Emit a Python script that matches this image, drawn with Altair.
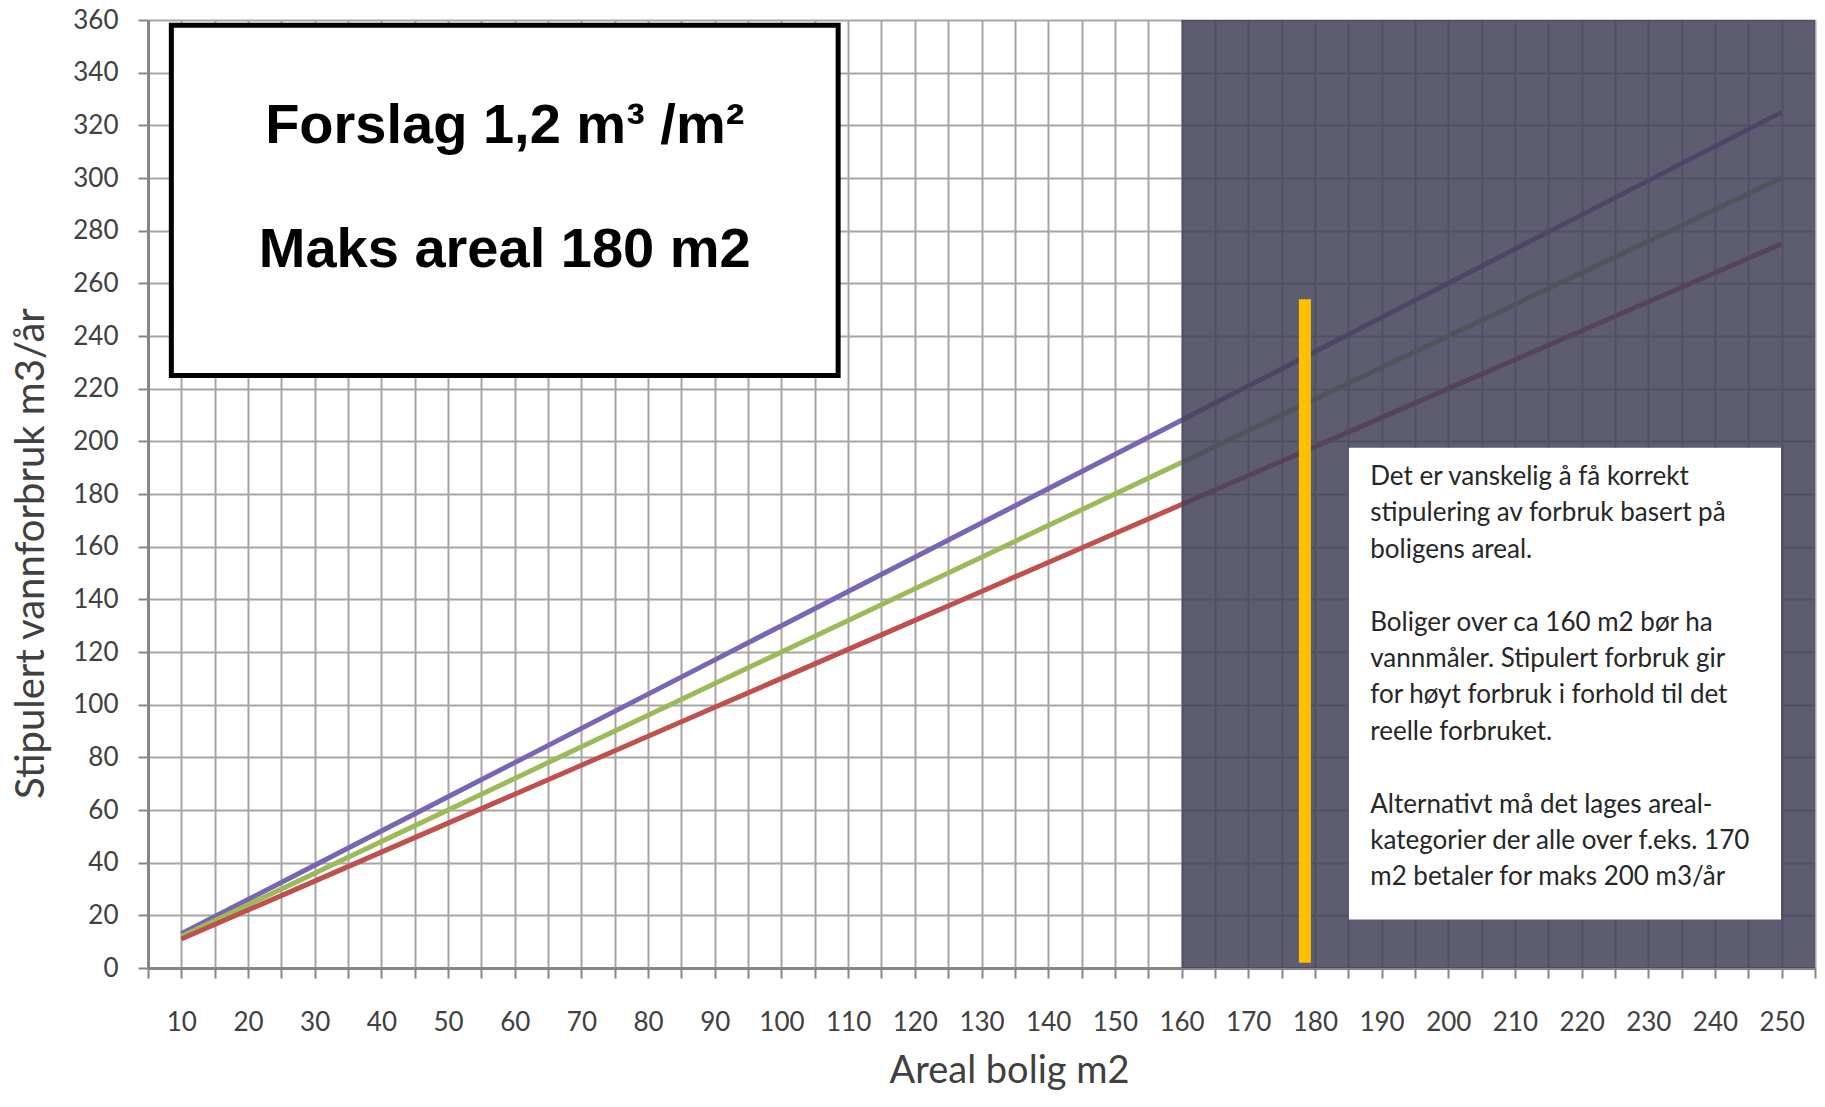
import altair as alt
import pandas as pd

# ---- data ----
areal = [10, 20, 30, 40, 50, 60, 70, 80, 90, 100, 110, 120, 130, 140, 150, 160,
         170, 180, 190, 200, 210, 220, 230, 240, 250]
forbruk_1_3 = [13, 26, 39, 52, 65, 78, 91, 104, 117, 130, 143, 156, 169, 182, 195, 208,
               221, 234, 247, 260, 273, 286, 299, 312, 325]
forbruk_1_2 = [12, 24, 36, 48, 60, 72, 84, 96, 108, 120, 132, 144, 156, 168, 180, 192,
               204, 216, 228, 240, 252, 264, 276, 288, 300]
forbruk_1_1 = [11, 22, 33, 44, 55, 66, 77, 88, 99, 110, 121, 132, 143, 154, 165, 176,
               187, 198, 209, 220, 231, 242, 253, 264, 275]
series_names = ["1,3 m3/m2", "1,2 m3/m2", "1,1 m3/m2"]
series_colors = ["#7866B4", "#9BBB59", "#C0504D"]

x_ticks = list(range(5, 256, 5))
y_ticks = list(range(0, 361, 20))

shade_x = [160, 255]
shade_y = [0, 360]
marker_x = [178.5]
marker_y = [2, 254]

box1_x = [8.5, 108.5]
box1_y = [225, 358]
box1_lines = ["Forslag 1,2 m\u00b3 /m\u00b2", "Maks areal 180 m2"]
box1_line_y = [319.8, 272.7]
box1_text_x = [58.5]

box2_x = [185.1, 249.9]
box2_y = [18.4, 197.6]
box2_text_x = 188.3
box2_first_line_y = 186.5
box2_line_step = 13.83
box2_lines = [
    "Det er vanskelig å få korrekt",
    "stipulering av forbruk basert på",
    "boligens areal.",
    "",
    "Boliger over ca  160 m2 bør ha",
    "vannmåler. Stipulert forbruk gir",
    "for høyt forbruk i forhold til det",
    "reelle forbruket.",
    "",
    "Alternativt må det lages areal-",
    "kategorier der alle  over f.eks. 170",
    "m2 betaler for maks 200 m3/år",
]

# ---- tables ----
rows = []
for name, vals in zip(series_names, [forbruk_1_3, forbruk_1_2, forbruk_1_1]):
    for a, v in zip(areal, vals):
        rows.append({"areal": a, "forbruk": v, "serie": name})
df = pd.DataFrame(rows)

xs = alt.Scale(domain=[5, 255], nice=False, zero=False)
ys = alt.Scale(domain=[0, 360], nice=False, zero=False)

TICK_FONT = "Lato"
axis_color = "#868686"
grid_color = "#a6a6a6"

lines = alt.Chart(df).mark_line(strokeWidth=5).encode(
    x=alt.X("areal:Q", scale=xs, axis=alt.Axis(
        values=x_ticks, tickCount=200,
        labelExpr="datum.value % 10 == 0 ? datum.label : ''",
        labelFont=TICK_FONT, labelFontSize=26, labelColor="#404040",
        labelPadding=31, labelOverlap=False, labelFlush=False,
        tickSize=10, tickColor=axis_color, tickWidth=2,
        domainColor=axis_color, domainWidth=3,
        grid=True, gridColor=grid_color, gridWidth=2,
        title="Areal bolig m2", titleFont=TICK_FONT, titleFontSize=38,
        titleFontWeight="normal", titleColor="#404040",
        titleX=861, titleY=114, titleAlign="center", titleBaseline="alphabetic",
    )),
    y=alt.Y("forbruk:Q", scale=ys, axis=alt.Axis(
        values=y_ticks, tickCount=100,
        labelFont=TICK_FONT, labelFontSize=26, labelColor="#404040",
        labelPadding=20,
        tickSize=10, tickColor=axis_color, tickWidth=2,
        domainColor=axis_color, domainWidth=3,
        grid=True, gridColor=grid_color, gridWidth=2,
        title="Stipulert vannforbruk m3/år", titleFont=TICK_FONT, titleFontSize=40,
        titleFontWeight="normal", titleColor="#404040",
        titleX=-117, titleY=533, titleAngle=270, titleAlign="center",
        titleBaseline="middle",
    )),
    color=alt.Color("serie:N", scale=alt.Scale(domain=series_names, range=series_colors),
                    legend=None),
    detail="serie:N",
)

shade_df = pd.DataFrame({"areal": [shade_x[0]], "areal2": [shade_x[1]],
                         "forbruk": [shade_y[0]], "forbruk2": [shade_y[1]]})
shade = alt.Chart(shade_df).mark_rect(color="#43415a", opacity=0.86).encode(
    x=alt.X("areal:Q", scale=xs), x2="areal2:Q",
    y=alt.Y("forbruk:Q", scale=ys), y2="forbruk2:Q",
)

marker_df = pd.DataFrame({"areal": marker_x, "forbruk": [marker_y[0]],
                          "forbruk2": [marker_y[1]]})
marker = alt.Chart(marker_df).mark_rule(color="#FFC000", strokeWidth=12).encode(
    x=alt.X("areal:Q", scale=xs),
    y=alt.Y("forbruk:Q", scale=ys), y2="forbruk2:Q",
)

box1_df = pd.DataFrame({"areal": [box1_x[0]], "areal2": [box1_x[1]],
                        "forbruk": [box1_y[0]], "forbruk2": [box1_y[1]]})
box1 = alt.Chart(box1_df).mark_rect(fill="white", stroke="black", strokeWidth=5).encode(
    x=alt.X("areal:Q", scale=xs), x2="areal2:Q",
    y=alt.Y("forbruk:Q", scale=ys), y2="forbruk2:Q",
)

box1_text_df = pd.DataFrame({"areal": box1_text_x * 2, "forbruk": box1_line_y,
                             "t": box1_lines})
box1_text = alt.Chart(box1_text_df).mark_text(
    font="Liberation Sans", fontWeight="bold", fontSize=56, color="black",
    align="center", baseline="middle",
).encode(
    x=alt.X("areal:Q", scale=xs),
    y=alt.Y("forbruk:Q", scale=ys),
    text="t:N",
)

box2_df = pd.DataFrame({"areal": [box2_x[0]], "areal2": [box2_x[1]],
                        "forbruk": [box2_y[0]], "forbruk2": [box2_y[1]]})
box2 = alt.Chart(box2_df).mark_rect(fill="white").encode(
    x=alt.X("areal:Q", scale=xs), x2="areal2:Q",
    y=alt.Y("forbruk:Q", scale=ys), y2="forbruk2:Q",
)

box2_rows = [
    {"areal": box2_text_x, "forbruk": box2_first_line_y - i * box2_line_step, "t": t}
    for i, t in enumerate(box2_lines) if t
]
box2_text_df = pd.DataFrame(box2_rows)
box2_text = alt.Chart(box2_text_df).mark_text(
    font="Lato", fontSize=26, color="#262626", align="left", baseline="middle",
).encode(
    x=alt.X("areal:Q", scale=xs),
    y=alt.Y("forbruk:Q", scale=ys),
    text="t:N",
)

chart = alt.layer(lines, shade, marker, box1, box1_text, box2, box2_text).properties(
    width=1667, height=948,
    autosize=alt.AutoSizeParams(type="none"),
    padding={"left": 140, "top": 12, "right": 2, "bottom": 125},
).configure_view(stroke=None).configure(background="white")

chart.save("out.html", embed_options={"renderer": "svg", "actions": False})
